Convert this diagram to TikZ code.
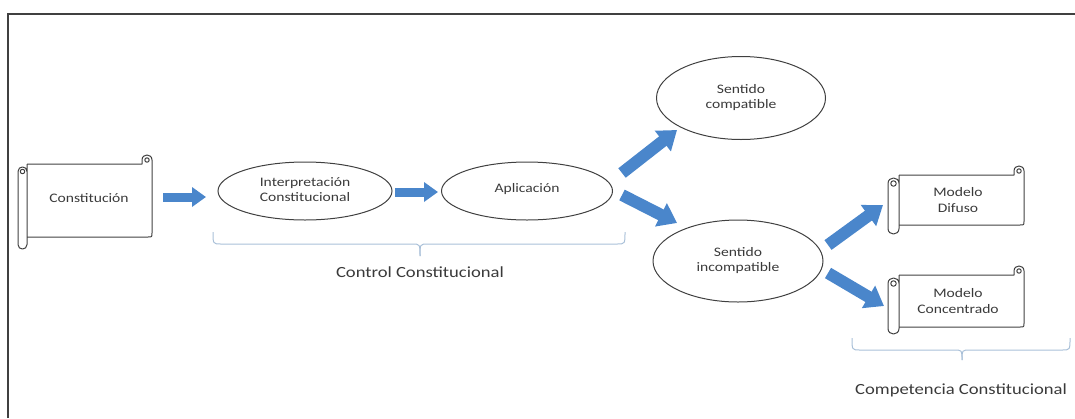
\documentclass[tikz,border=0pt]{standalone}
\usepackage{fontspec}
\setmainfont[FakeStretch=1.2]{Carlito}
\usetikzlibrary{shapes.geometric,arrows.meta}
\definecolor{outl}{HTML}{404040}
\definecolor{arrowblue}{HTML}{4A86CB}
\definecolor{bracec}{HTML}{A9C0D8}
\definecolor{txt}{HTML}{3A3A3A}
\newcommand\lifttext[2]{\raisebox{#1}{\begin{tabular}{@{}c@{}}#2\end{tabular}}}
% scroll: #1 L, #2 roll width, #3 top, #4 right, #5 body bottom, #6 roll bottom
\newcommand\scrollshape[6]{%
  \draw[scrollline] (#1+#2,#3) -- (#4-10,#3) -- (#4-10,#3-4)
    .. controls (#4-10,#3-10.7) and (#4,#3-10.7) .. (#4,#3-4)
    -- (#4,#5-4) .. controls (#4,#5) .. (#4-4,#5) -- (#1+#2,#5);
  \draw[scrollline] (#4-5,#3-4) circle[radius=2.2];
  \draw[scrollline] (#1+#2,#3) -- (#1+#2,#6-#2/2)
    .. controls (#1+#2,#6+#2/6) and (#1,#6+#2/6) .. (#1,#6-#2/2)
    -- (#1,#3+3+#2/2)
    .. controls (#1,#3+3-#2/6) and (#1+#2,#3+3-#2/6) .. (#1+#2,#3+3+#2/2);
  \draw[scrollline] (#1+#2/2,#3+3+#2/2) circle[radius=#2/4];
}
\begin{document}
\begin{tikzpicture}[x=1pt,y=-1pt,
  scrollline/.style={draw=outl, line width=1pt, line join=round},
  oval/.style={ellipse, draw=outl, line width=1pt, inner sep=0pt, text=txt,
    font=\fontsize{13}{15.5}\selectfont},
  scrolltext/.style={inner sep=0pt, text=txt, align=center,
    font=\fontsize{13}{15.5}\selectfont},
  biglabel/.style={inner sep=0pt, text=txt, font=\fontsize{15.5}{18}\selectfont},
  barrow/.style={draw=arrowblue, line width=9pt,
    -{Triangle[width=19pt,length=14pt]}, arrowblue},
  bdiag/.style={draw=arrowblue, line width=12pt,
    -{Triangle[width=25pt,length=18pt]}, arrowblue},
  bracestyle/.style={draw=bracec, line width=1pt}]
\useasboundingbox (0,0) rectangle (1075,418);
% frame
\draw[outl, line width=1.5pt] (8,418) -- (8,14) -- (1075,14);

% scrolls
\scrollshape{18}{9}{164}{152}{237}{249}
\node[scrolltext] (const) at (89,198) {Constitución};
\scrollshape{888}{11}{175}{1024}{225}{234}
\node[scrolltext] (difuso) at (958,200) {Modelo\\Difuso};
\scrollshape{888}{11}{275}{1024}{327}{334}
\node[scrolltext] (concent) at (958,301) {Modelo\\Concentrado};

% ellipses
\node[oval, minimum width=174pt, minimum height=58pt] (interp) at (305,191)
  {\lifttext{0pt}{Interpretación\\Constitucional}};
\node[oval, minimum width=171pt, minimum height=58pt] (aplic) at (527,191)
  {\lifttext{8pt}{Aplicación}};
\node[oval, minimum width=169pt, minimum height=83pt] (compat) at (741,98)
  {\lifttext{5pt}{Sentido\\compatible}};
\node[oval, minimum width=170pt, minimum height=82pt] (incomp) at (738,261)
  {\lifttext{8pt}{Sentido\\incompatible}};

% arrow end points
\coordinate (a1s) at (163,197); \coordinate (a1e) at (206,197);
\coordinate (a2s) at (395,192); \coordinate (a2e) at (438,192);
\coordinate (a3s) at (622,173); \coordinate (a3e) at (677,130);
\coordinate (a4s) at (622,195); \coordinate (a4e) at (677,223);
\coordinate (a5s) at (828,245); \coordinate (a5e) at (883,205);
\coordinate (a6s) at (828,273); \coordinate (a6e) at (884,306);
\draw[barrow] (a1s) -- (a1e);
\draw[barrow] (a2s) -- (a2e);
\draw[bdiag] (a3s) -- (a3e);
\draw[bdiag] (a4s) -- (a4e);
\draw[bdiag] (a5s) -- (a5e);
\draw[bdiag] (a6s) -- (a6e);

% braces
\draw[bracestyle] (213,232) .. controls (213,244) .. (221,244) -- (412,244)
  .. controls (420,244) .. (420,256);
\draw[bracestyle] (625,232) .. controls (625,244) .. (617,244) -- (428,244)
  .. controls (420,244) .. (420,256);
\node[biglabel] (ctrl) at (420,272) {Control Constitucional};
\draw[bracestyle] (852,338) .. controls (852,350) .. (860,350) -- (954,350)
  .. controls (962,350) .. (962,360);
\draw[bracestyle] (1070,338) .. controls (1070,350) .. (1062,350) -- (970,350)
  .. controls (962,350) .. (962,360);
\node[biglabel] (comp) at (961,390) {Competencia Constitucional};
\end{tikzpicture}
\end{document}
